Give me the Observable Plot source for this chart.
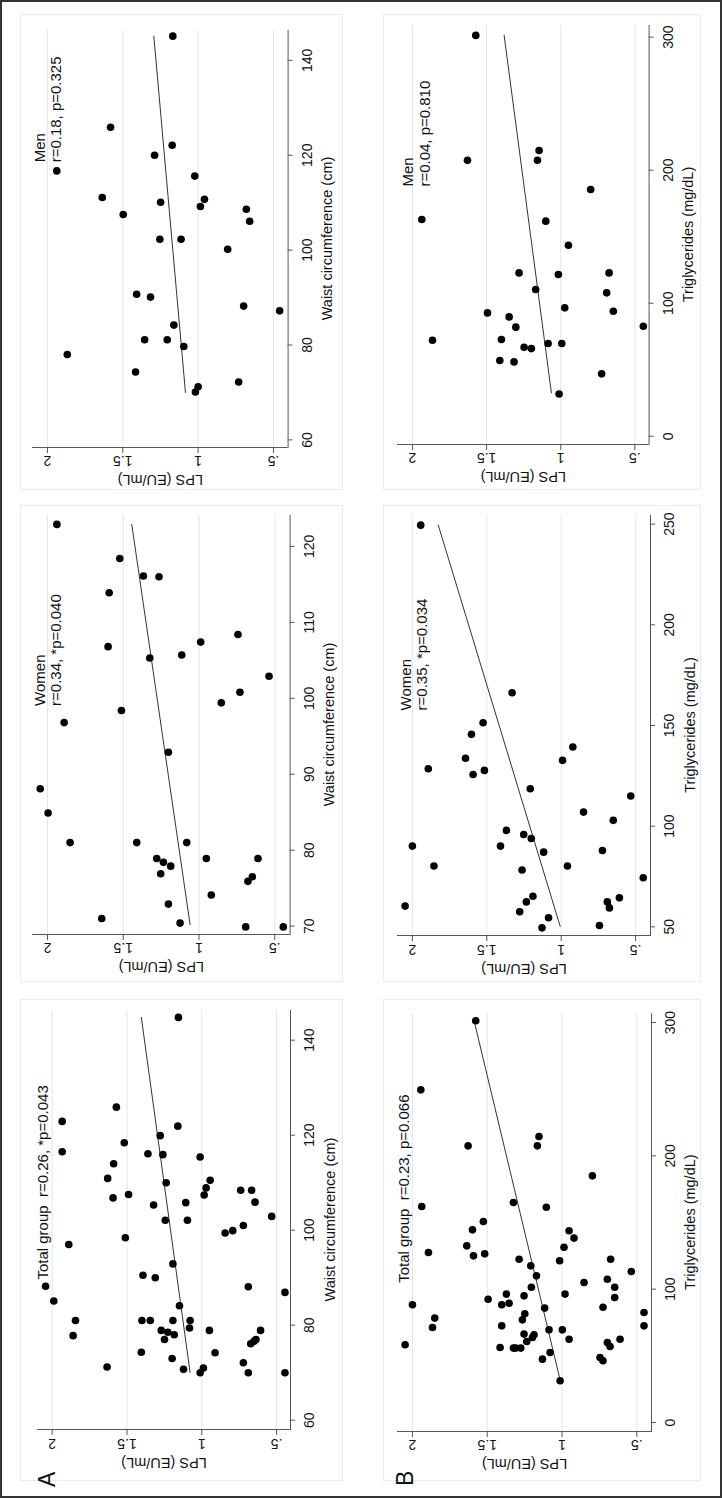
<!DOCTYPE html>
<html><head><meta charset="utf-8">
<script src="https://cdn.jsdelivr.net/npm/d3@7"></script>
<script src="https://cdn.jsdelivr.net/npm/@observablehq/plot@0.6"></script>
<style>
html,body{margin:0;padding:0;background:#fff;width:722px;height:1498px;overflow:hidden;}
#fig{position:absolute;left:0;top:0;width:1498px;height:722px;transform-origin:0 0;transform:translate(0,1498px) rotate(-90deg);background:#fff;font-family:"Liberation Sans",Arial,sans-serif;}
.abs{position:absolute;left:0;top:0;}
</style></head><body><div id="fig"></div><script>
// ---------- DATA ----------
const lpsTicks = [0.5, 1, 1.5, 2];
const waistTicksWide = [60, 80, 100, 120, 140];
const waistTicksWomen = [70, 80, 90, 100, 110, 120];
const tgTicksWide = [0, 100, 200, 300];
const tgTicksWomen = [50, 100, 150, 200, 250];
const yTitle = "LPS (EU/mL)";
const waistTitle = "Waist circumference (cm)";
const tgTitle = "Triglycerides (mg/dL)";
const rowLabels = ["A", "B"];

// [waist (cm), LPS (EU/mL)]
const totalWaist = [[88.2,2.044],[85.1,1.989],[81.0,1.844],[77.8,1.86],[97.0,1.889],[122.9,1.933],[116.5,1.933],[71.2,1.633],[110.9,1.629],[106.8,1.593],[114.0,1.589],[125.9,1.571],[118.4,1.518],[98.4,1.511],[107.5,1.489],[74.3,1.404],[81.0,1.40],[90.5,1.393],[81.0,1.344],[116.1,1.36],[105.3,1.322],[90.0,1.311],[119.9,1.278],[78.9,1.271],[115.9,1.26],[77.0,1.249],[102.1,1.244],[110.0,1.238],[78.5,1.227],[73.0,1.198],[92.9,1.193],[81.0,1.193],[78.0,1.184],[121.9,1.16],[84.1,1.149],[70.7,1.122],[105.8,1.107],[102.1,1.096],[79.4,1.082],[81.0,1.078],[144.8,1.156],[70.0,1.011],[71.0,0.989],[115.4,1.011],[107.4,0.984],[108.9,0.971],[110.5,0.944],[78.9,0.949],[74.2,0.911],[99.4,0.844],[99.9,0.793],[101.0,0.722],[108.4,0.74],[108.4,0.667],[105.9,0.644],[72.1,0.722],[70.0,0.689],[88.1,0.689],[76.1,0.673],[76.6,0.651],[77.0,0.638],[78.9,0.607],[102.9,0.533],[86.9,0.444],[70.0,0.444]];
const womenWaist = [[88.1,2.048],[84.9,1.996],[96.8,1.89],[81.0,1.851],[122.9,1.938],[71.0,1.642],[106.8,1.60],[113.9,1.593],[118.4,1.523],[98.4,1.512],[81.0,1.411],[116.1,1.367],[105.3,1.325],[78.9,1.279],[116.0,1.264],[76.9,1.253],[78.4,1.235],[72.9,1.202],[92.9,1.202],[77.9,1.187],[70.4,1.125],[105.7,1.114],[81.0,1.081],[107.4,0.989],[78.9,0.952],[74.1,0.919],[99.4,0.853],[108.4,0.743],[100.8,0.73],[69.9,0.692],[75.9,0.677],[76.5,0.648],[78.9,0.611],[102.9,0.538],[69.9,0.444]];
const menWaist = [[116.7,1.938],[78.0,1.868],[111.1,1.636],[125.9,1.581],[107.5,1.497],[74.3,1.415],[90.7,1.408],[81.1,1.355],[90.1,1.316],[120.0,1.289],[102.3,1.254],[110.1,1.249],[81.1,1.205],[122.1,1.172],[84.2,1.161],[145.1,1.168],[102.3,1.113],[79.7,1.095],[115.6,1.022],[70.1,1.018],[71.2,1.0],[109.2,0.985],[110.7,0.958],[100.2,0.804],[72.2,0.731],[88.2,0.698],[108.6,0.68],[106.1,0.658],[87.2,0.459]];
// [triglycerides (mg/dL), LPS (EU/mL)]
const totalTG = [[58.3,2.049],[88.3,2.0],[162,1.938],[249.5,1.944],[127.5,1.893],[71.3,1.866],[78.3,1.851],[132.5,1.637],[207.5,1.628],[125,1.592],[144.5,1.599],[301.3,1.577],[150.8,1.526],[126.5,1.517],[92.5,1.494],[56.3,1.414],[88.3,1.403],[72.5,1.403],[96.3,1.372],[89.5,1.354],[55.8,1.325],[165,1.325],[55.8,1.31],[122.5,1.287],[55.8,1.276],[77,1.265],[95,1.254],[81.5,1.249],[66.3,1.254],[60.8,1.236],[117.5,1.209],[101.5,1.205],[63.8,1.198],[65.8,1.187],[110,1.171],[207.5,1.165],[214.5,1.154],[47.5,1.131],[85.8,1.116],[161.5,1.105],[69.5,1.087],[52.5,1.08],[121.3,1.016],[31.3,1.013],[69.5,0.998],[131.5,0.987],[96.3,0.98],[62.5,0.953],[143.8,0.953],[138.3,0.92],[105,0.853],[185,0.797],[48.8,0.746],[46.3,0.726],[86.5,0.726],[107.5,0.697],[122.5,0.675],[60,0.697],[57,0.679],[101.5,0.648],[93.8,0.648],[62.5,0.612],[113.3,0.537],[82.5,0.452],[72.5,0.452]];
const womenTG = [[60.3,2.049],[90.1,2.0],[249.5,1.944],[128.5,1.893],[80.2,1.855],[133.7,1.643],[145.6,1.603],[125.7,1.592],[151.4,1.525],[127.7,1.516],[90.1,1.408],[97.9,1.368],[166.3,1.33],[57.5,1.279],[78.2,1.263],[95.9,1.252],[62.4,1.234],[118.6,1.208],[93.9,1.201],[65.2,1.19],[87.1,1.118],[49.5,1.129],[54.5,1.085],[132.7,0.991],[80.2,0.958],[139.3,0.922],[107,0.85],[50.7,0.743],[87.9,0.723],[62.4,0.69],[59.4,0.676],[102.9,0.65],[64.4,0.609],[115,0.533],[74.4,0.449]];
const menTG = [[162.9,1.937],[72.2,1.865],[207.5,1.629],[301.3,1.573],[92.7,1.494],[56.9,1.411],[72.7,1.4],[89.7,1.348],[55.9,1.315],[82,1.303],[122.8,1.281],[66.9,1.247],[65.9,1.198],[110.3,1.169],[207.5,1.157],[214.8,1.146],[161.7,1.101],[69.7,1.085],[121.6,1.016],[31.8,1.011],[69.7,0.993],[96.5,0.973],[143.6,0.948],[185.5,0.798],[46.9,0.724],[107.8,0.69],[122.8,0.674],[94,0.645],[82.7,0.443]];

// fitted regression line end points
const fitTotalWaist = [[70.0,1.078],[144.8,1.404]];
const fitWomenWaist = [[70.2,1.059],[122.9,1.444]];
const fitMenWaist = [[70.0,1.084],[145.1,1.294]];
const fitTotalTG = [[32,1.013],[301.3,1.588]];
const fitWomenTG = [[50.3,1.007],[249.5,1.826]];
const fitMenTG = [[32.6,1.063],[301.5,1.382]];

// annotations [text, x, y] in data units
const noteTotalWaist = ["Total group\u00a0 r=0.26, *p=0.043", 89.6, 2.065];
const noteWomenWaist = ["Women\nr=0.34, *p=0.040", 99.0, 1.998];
const noteMenWaist = ["Men\nr=0.18, p=0.325", 118.5, 1.997];
const noteTotalTG = ["Total group\u00a0 r=0.23, p=0.066", 104.8, 2.058];
const noteWomenTG = ["Women\nr=0.35, *p=0.034", 157.5, 1.993];
const noteMenTG = ["Men\nr=0.04, p=0.810", 187.7, 1.974];

// ---------- LAYOUT (unrotated figure coordinates) ----------
const FONT = '"Liberation Sans", Arial, sans-serif';
const panels = [
  {data: totalWaist, fit: fitTotalWaist, note: noteTotalWaist, ticks: waistTicksWide, title: waistTitle, fx:[68,488], fy:[37,290], xd:[58.04,146.46], yd:[0.407,2.098]},
  {data: womenWaist, fit: fitWomenWaist, note: noteWomenWaist, ticks: waistTicksWomen, title: waistTitle, fx:[563,983], fy:[31.7,289.3], xd:[68.9,124.2], yd:[0.399,2.099]},
  {data: menWaist, fit: fitMenWaist, note: noteMenWaist, ticks: waistTicksWide, title: waistTitle, fx:[1050,1468], fy:[31.7,287.3], xd:[58.4,146.5], yd:[0.403,2.099]},
  {data: totalTG, fit: fitTotalTG, note: noteTotalTG, ticks: tgTicksWide, title: tgTitle, fx:[66.3,485], fy:[396.7,650.7], xd:[-6.75,307.3], yd:[0.402,2.1]},
  {data: womenTG, fit: fitWomenTG, note: noteWomenTG, ticks: tgTicksWomen, title: tgTitle, fx:[562,983], fy:[397,650], xd:[45.7,254.8], yd:[0.40,2.1]},
  {data: menTG, fit: fitMenTG, note: noteMenTG, ticks: tgTicksWide, title: tgTitle, fx:[1053,1473], fy:[396.7,648.3], xd:[-6.2,309.5], yd:[0.404,2.101]}
];
const fig = document.getElementById("fig");

// background decorations: outer border, faint sub-graph regions, row letters
const deco = d3.create("svg").attr("class","abs").attr("width",1498).attr("height",722)
  .style("font-family", FONT);
const regions = [[17,20,481,322],[516,20,476,322],[1008,20,475,322],[17,383,481,317],[516,383,476,317],[1008,383,475,317]];
for (const [x,y,w,h] of regions) deco.append("rect").attr("x",x+0.5).attr("y",y+0.5).attr("width",w).attr("height",h).attr("fill","none").attr("stroke","#ececec");
deco.append("rect").attr("x",1).attr("y",1).attr("width",1496).attr("height",720).attr("fill","none").attr("stroke","#333").attr("stroke-width",2);
deco.append("text").attr("x",11).attr("y",55).attr("font-size",23).attr("fill","#111").text(rowLabels[0]);
deco.append("text").attr("x",12).attr("y",413).attr("font-size",23).attr("fill","#111").text(rowLabels[1]);
fig.appendChild(deco.node());

const fmtLPS = d => d < 1 ? String(d).replace(/^0/, "") : String(d);
const mL = 60, mT = 30, mR = 20, mB = 60;
for (const p of panels) {
  const fw = p.fx[1] - p.fx[0], fh = p.fy[1] - p.fy[0];
  const chart = Plot.plot({
    width: mL + fw + mR, height: mT + fh + mB,
    marginLeft: mL, marginTop: mT, marginRight: mR, marginBottom: mB,
    style: {fontFamily: FONT, fontSize: "14px", color: "#111", background: "transparent", overflow: "visible"},
    x: {domain: p.xd},
    y: {domain: p.yd},
    marks: [
      Plot.gridY(lpsTicks, {stroke: "#e1e7ea", strokeOpacity: 1}),
      Plot.ruleX([p.xd[0]], {stroke: "#555"}),
      Plot.ruleY([p.yd[0]], {stroke: "#555"}),
      Plot.axisX(p.ticks, {tickSize: 5, tickPadding: 9, label: null, stroke: "#555", fill: "#111", fontSize: 14}),
      Plot.axisY(lpsTicks, {tickSize: 5, label: null, stroke: "#555", fill: "none"}),
      Plot.text(lpsTicks, {y: d => d, text: fmtLPS, frameAnchor: "left", dx: -9, rotate: -90, textAnchor: "middle", lineAnchor: "bottom", fontSize: 14, fill: "#111"}),
      Plot.text([yTitle], {text: d => d, frameAnchor: "left", dx: -28, rotate: -90, textAnchor: "middle", lineAnchor: "bottom", fontSize: 14.5, fill: "#111"}),
      Plot.text([p.title], {text: d => d, frameAnchor: "bottom", dy: 44, textAnchor: "middle", lineAnchor: "bottom", fontSize: 14.5, fill: "#111"}),
      Plot.line(p.fit, {x: d => d[0], y: d => d[1], stroke: "#333", strokeWidth: 1}),
      Plot.dot(p.data, {x: d => d[0], y: d => d[1], r: 3.8, fill: "#000", stroke: "none"}),
      Plot.text([p.note], {x: d => d[1], y: d => d[2], text: d => d[0], textAnchor: "start", lineAnchor: "middle", lineHeight: 1.07, fontSize: 15, fill: "#111"})
    ]
  });
  chart.style.position = "absolute";
  chart.style.left = (p.fx[0] - mL) + "px";
  chart.style.top = (p.fy[0] - mT) + "px";
  fig.appendChild(chart);
}
</script></body></html>
